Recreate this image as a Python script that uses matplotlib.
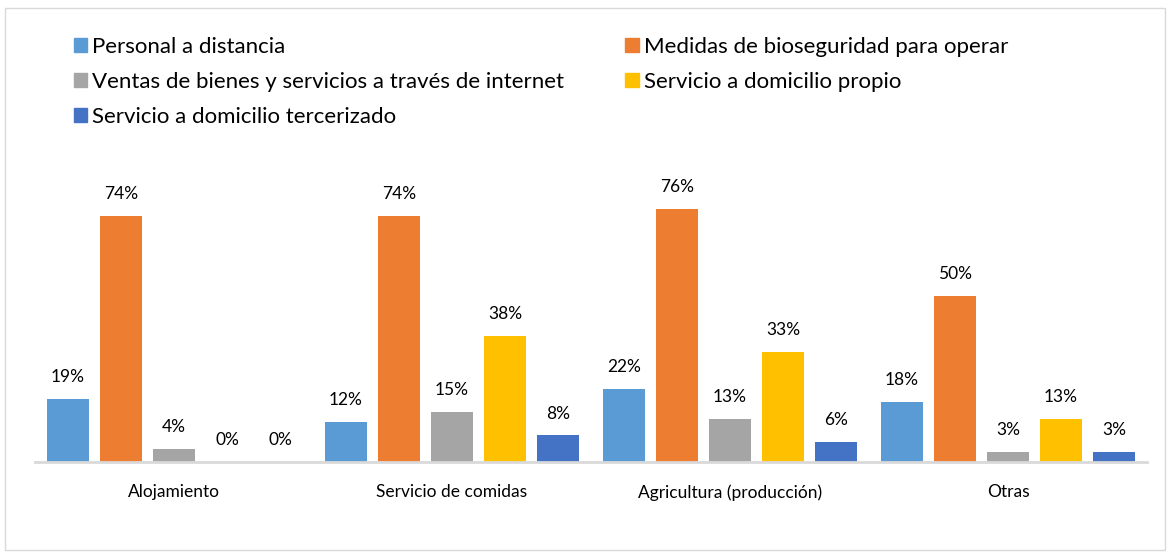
import numpy as np
import matplotlib.pyplot as plt
from matplotlib.patches import Rectangle, Patch

plt.rcParams['font.family'] = ['Lato', 'DejaVu Sans']

# data
categories = ['Alojamiento', 'Servicio de comidas', 'Agricultura (producción)', 'Otras']
series = ['Personal a distancia', 'Medidas de bioseguridad para operar',
          'Ventas de bienes y servicios a través de internet', 'Servicio a domicilio propio',
          'Servicio a domicilio tercerizado']
personal = [19, 12, 22, 18]
medidas = [74, 74, 76, 50]
ventas = [4, 15, 13, 3]
propio = [0, 38, 33, 13]
tercerizado = [0, 8, 6, 3]
values = [personal, medidas, ventas, propio, tercerizado]
colors = ['#5B9BD5', '#ED7D31', '#A5A5A5', '#FFC000', '#4472C4']

fig = plt.figure(figsize=(11.71, 5.56), dpi=100)
fig.patches.append(Rectangle((5/1171, 6/556), 1160/1171, 542/556, transform=fig.transFigure,
                             fill=False, edgecolor='#D9D9D9', linewidth=1))

ax = fig.add_axes([35/1171, 94/556, 1112/1171, 266/556])
x = np.arange(len(categories))
step = 0.191
width = 0.152
for i, (vals, c) in enumerate(zip(values, colors)):
    pos = x + (i - 2) * step
    bars = ax.bar(pos, vals, width, color=c, label=series[i])
    for p, v in zip(pos, vals):
        ax.annotate(f'{v}%', (p, v), xytext=(0, 10), textcoords='offset points',
                    ha='center', va='bottom', fontsize=12.5, color='#000000')

ax.set_xlim(-0.5, 3.5)
ax.set_ylim(0, 80)
ax.set_xticks(x)
ax.set_xticklabels(categories, fontsize=12.5)
ax.tick_params(axis='x', length=0, pad=16)
ax.set_yticks([])
for s in ['top', 'right', 'left']:
    ax.spines[s].set_visible(False)
ax.spines['bottom'].set_color('#D9D9D9')
ax.spines['bottom'].set_linewidth(2)

handles = [Patch(color=c) for c in colors]
order = [0, 2, 4, 1, 3]
fig.legend([handles[k] for k in order], [series[k] for k in order], ncol=2,
           loc='upper left', bbox_to_anchor=(74/1171, 1 - 37/556), frameon=False,
           fontsize=16, handlelength=0.6, handleheight=0.6, handletextpad=0.22,
           labelspacing=0.68, columnspacing=2.75, borderaxespad=0, borderpad=0)

fig.savefig('out.png', dpi=100)
